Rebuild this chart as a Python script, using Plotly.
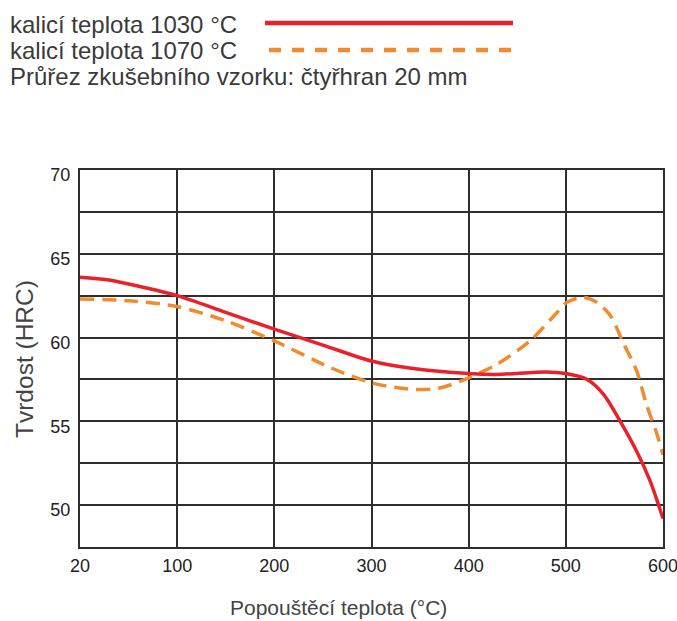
import plotly.graph_objects as go

# Axis positions (uniform scale; first tick is labelled 20 °C)
x_ticks = [0, 100, 200, 300, 400, 500, 600]
x_tick_labels = ["20", "100", "200", "300", "400", "500", "600"]

y_ticks = [47.5, 50, 52.5, 55, 57.5, 60, 62.5, 65, 67.5, 70]
y_tick_labels = ["", "50", "", "55", "", "60", "", "65", "", "70"]

# kalicí teplota 1030 °C
x_1030 = [0, 28, 50, 100, 150, 200, 250, 300, 343, 400, 429, 480, 500, 522, 539, 556, 573, 587, 600]
y_1030 = [63.6, 63.45, 63.2, 62.5, 61.5, 60.5, 59.55, 58.6, 58.15, 57.85, 57.8, 57.95, 57.85, 57.5, 56.6, 55.0, 53.2, 51.4, 49.2]

# kalicí teplota 1070 °C
x_1070 = [0, 50, 100, 150, 200, 258, 300, 343, 371, 400, 429, 463, 491, 501, 518, 532, 546, 559, 573, 583, 594, 600]
y_1070 = [62.3, 62.2, 61.85, 61.0, 59.8, 58.2, 57.3, 56.9, 57.0, 57.6, 58.4, 59.8, 61.5, 62.1, 62.4, 62.1, 61.3, 59.7, 58.0, 56.0, 54.2, 53.0]

legend_1030 = "kalicí teplota 1030 °C"
legend_1070 = "kalicí teplota 1070 °C"
note_text = "Průřez zkušebního vzorku: čtyřhran 20 mm"
x_title = "Popouštěcí teplota (°C)"
y_title = "Tvrdost (HRC)"

RED = "#e8212b"
ORANGE = "#f28a2e"
GRID = "#2e2e2e"
FONT = "Liberation Sans, Arial, sans-serif"

fig = go.Figure()
fig.add_trace(go.Scatter(x=x_1070, y=y_1070, mode="lines",
                         line=dict(color=ORANGE, width=3.5, dash="14px,8px", shape="spline", smoothing=0.8),
                         showlegend=False, name=legend_1070))
fig.add_trace(go.Scatter(x=x_1030, y=y_1030, mode="lines",
                         line=dict(color=RED, width=3.5, shape="spline", smoothing=0.8),
                         showlegend=False, name=legend_1030))

W, H = 677, 621
L, R, T, B = 80, 14, 170, 74
pw, ph = W - L - R, H - T - B

def px(xp):
    return (xp - L) / pw

def py(yp):
    return (H - B - yp) / ph

fig.update_layout(
    width=W, height=H,
    margin=dict(l=L, r=R, t=T, b=B, autoexpand=False),
    paper_bgcolor="white", plot_bgcolor="white",
    font=dict(family=FONT, color="#333333"),
    xaxis=dict(range=[0, 600], tickvals=x_ticks, ticktext=x_tick_labels,
               showgrid=True, gridcolor=GRID, gridwidth=2,
               showline=True, linecolor=GRID, linewidth=2, mirror=True,
               zeroline=False, ticks="", ticklabelstandoff=1, ticklabeloverflow="allow",
               tickfont=dict(size=18, color="#222222", family=FONT)),
    yaxis=dict(range=[47.5, 70], tickvals=y_ticks, ticktext=y_tick_labels,
               showgrid=True, gridcolor=GRID, gridwidth=2,
               showline=True, linecolor=GRID, linewidth=2, mirror=True,
               zeroline=False, ticks="", ticklabelstandoff=4, ticklabelshift=5,
               ticklabeloverflow="allow",
               tickfont=dict(size=18, color="#222222", family=FONT)),
)

ann = []
# legend texts
for text, yc in [(legend_1030, 24), (legend_1070, 50.5), (note_text, 76.5)]:
    ann.append(dict(text=text, xref="paper", yref="paper", x=px(8), y=py(yc),
                    xanchor="left", yanchor="middle", showarrow=False,
                    font=dict(size=24, color="#3a3a3a", family=FONT)))
# axis titles
ann.append(dict(text=x_title, xref="paper", yref="paper", x=px(338), y=py(607),
                xanchor="center", yanchor="middle", showarrow=False,
                font=dict(size=21, color="#444444", family=FONT)))
ann.append(dict(text=y_title, xref="paper", yref="paper", x=px(24), y=py(359),
                xanchor="center", yanchor="middle", showarrow=False, textangle=-90,
                font=dict(size=24.5, color="#444444", family=FONT)))
fig.update_layout(annotations=ann)

# legend sample lines
fig.add_shape(type="line", xref="paper", yref="paper", x0=px(265), x1=px(513), y0=py(23), y1=py(23),
              line=dict(color=RED, width=4.5))
fig.add_shape(type="line", xref="paper", yref="paper", x0=px(269), x1=px(513), y0=py(50), y1=py(50),
              line=dict(color=ORANGE, width=4.5, dash="12px,11px"))

fig.write_html("out.html", config={"displayModeBar": False},
               post_script="document.body.style.margin='0px';document.body.style.overflow='hidden';")
